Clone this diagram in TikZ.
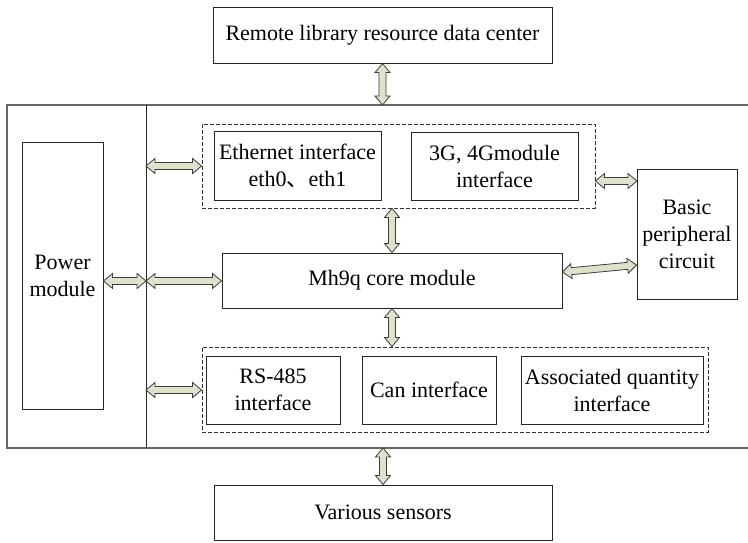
\documentclass[tikz,border=0pt]{standalone}
\usepackage{fontspec}
\setmainfont{Liberation Serif}
\newfontfamily\cjkfont{Noto Sans CJK SC}
\usetikzlibrary{calc}
\definecolor{arrfill}{HTML}{DDE2CC}
\definecolor{arrline}{HTML}{3C3C3C}
\newcommand{\barr}[2]{\path[barrow] let \p1=(#1),\p2=(#2),\n1={atan2(\y2-\y1,\x2-\x1)},\n2={veclen(\x2-\x1,\y2-\y1)} in [shift={(\p1)},rotate=\n1] (0pt,0pt) -- (9pt,7.5pt) -- (9pt,3.5pt) -- (\n2-9pt,3.5pt) -- (\n2-9pt,7.5pt) -- (\n2,0pt) -- (\n2-9pt,-7.5pt) -- (\n2-9pt,-3.5pt) -- (9pt,-3.5pt) -- (9pt,-7.5pt) -- cycle;}
\begin{document}
\begin{tikzpicture}[x=1pt,y=-1pt,
  box/.style={draw=black!85,line width=1pt,align=center,inner sep=0pt,font=\fontsize{22}{27}\selectfont},
  grp/.style={draw=black!80,dash pattern=on 4pt off 2pt,line width=0.9pt,inner sep=0pt},
  outer/.style={draw=black!60,line width=1.4pt},
  barrow/.style={draw=arrline,fill=arrfill,line width=0.8pt,line join=miter}]
\useasboundingbox (0,0) rectangle (748,542);
% outer frame
\draw[outer] (748,105) -- (7,105) -- (7,448) -- (748,448);
\draw[draw=black!85,line width=1pt] (146,105) -- (146,448);
% nodes
\node[box,minimum width=339pt,minimum height=56pt] (remote) at (382.5,35) {Remote library resource data center};
\node[box,minimum width=81pt,minimum height=267pt] (power) at (62.5,275.5) {Power\\module};
\node[grp,minimum width=393pt,minimum height=84pt] (topgrp) at (398.5,166) {};
\node[box,minimum width=167pt,minimum height=69pt] (eth) at (297.5,165.5) {Ethernet interface\\eth0{\cjkfont 、}eth1};
\node[box,minimum width=167pt,minimum height=68pt] (g34) at (494.5,166) {3G, 4Gmodule\\interface};
\node[box,minimum width=100pt,minimum height=130pt] (periph) at (687,234) {Basic\\peripheral\\circuit};
\node[box,minimum width=340pt,minimum height=55pt] (core) at (392,280.5) {Mh9q core module};
\node[grp,minimum width=506pt,minimum height=85pt] (botgrp) at (455,389.5) {};
\node[box,minimum width=134pt,minimum height=68pt] (rs) at (273,390) {RS-485\\interface};
\node[box,minimum width=134pt,minimum height=68pt] (can) at (429,390) {Can interface};
\node[box,minimum width=182pt,minimum height=68pt] (assoc) at (612,390) {Associated quantity\\interface};
\node[box,minimum width=338pt,minimum height=55pt] (sensors) at (383,512.5) {Various sensors};
% connection points on the frame
\coordinate (ot) at (382.5,105);
\coordinate (ob) at (383,448);
\coordinate (dv1) at (146,166);
\coordinate (dv2) at (146,281);
\coordinate (dv3) at (146,390);
\coordinate (pt1) at (637,181);
% block arrows
\barr{remote.south}{ot}
\barr{dv1}{topgrp.west}
\barr{power.east |- dv2}{dv2}
\barr{dv2}{core.west |- dv2}
\barr{dv3}{botgrp.west |- dv3}
\barr{core.north |- topgrp.south}{core.north}
\barr{core.south}{botgrp.north -| core.south}
\barr{topgrp.east |- pt1}{pt1}
\barr{$(core.east)+(0,-8.5)$}{$(periph.west)+(0,31)$}
\barr{ob}{sensors.north}
\end{tikzpicture}
\end{document}
